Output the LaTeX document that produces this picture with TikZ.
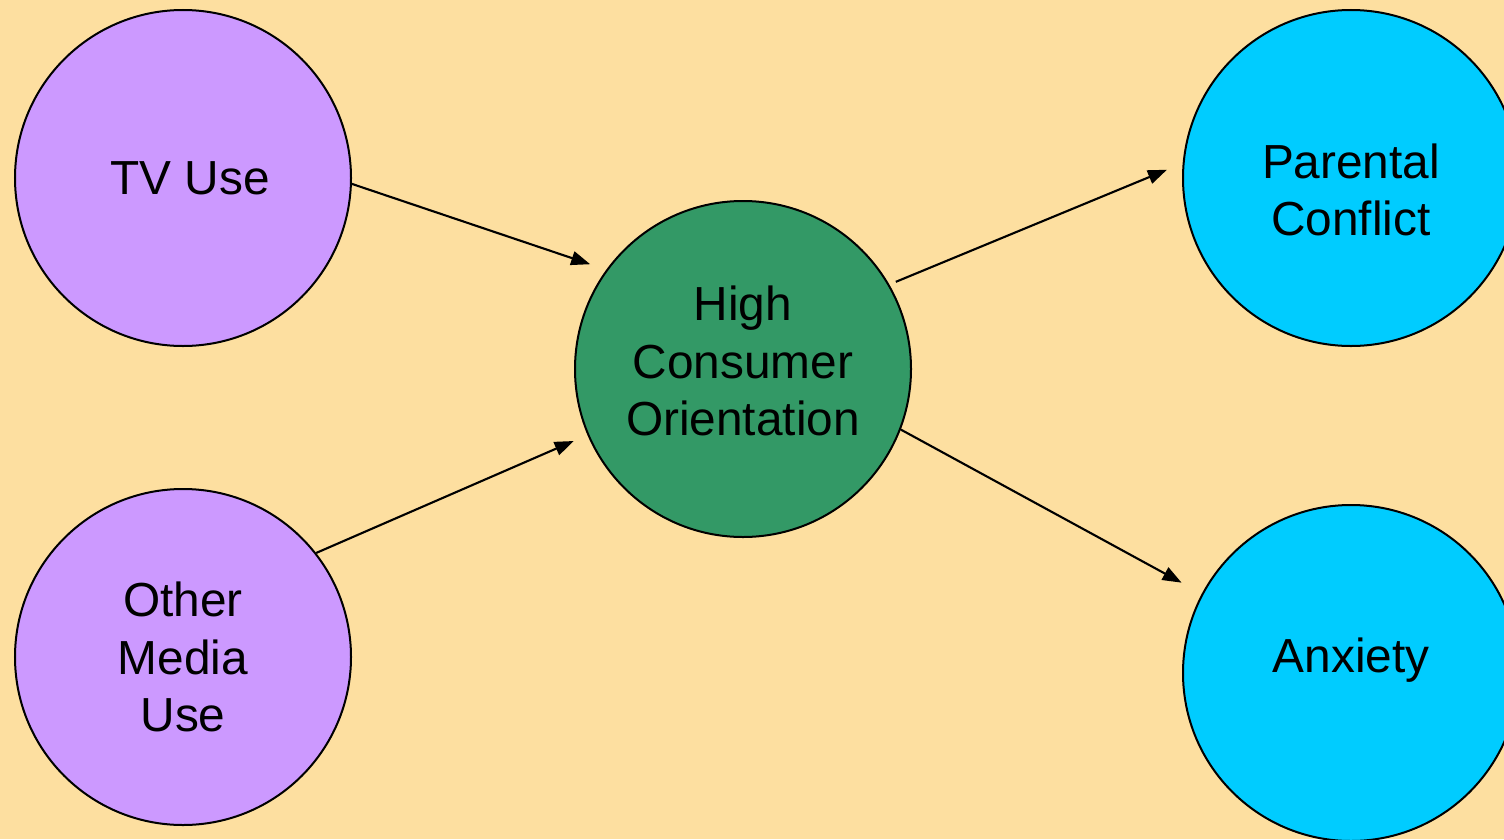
\documentclass[tikz,border=0pt]{standalone}
\usepackage{fontspec}
\setmainfont{Liberation Sans}
\usepackage{xcolor}
\usetikzlibrary{shapes,arrows,positioning,calc,arrows.meta}

\definecolor{paper}{HTML}{FDDFA0}
\definecolor{media}{HTML}{CC99FF}
\definecolor{consumer}{HTML}{339966}
\definecolor{outcome}{HTML}{00CCFF}

\tikzset{
    factor/.style={circle, draw=black, line width=0.57pt, minimum size=3.36cm, inner sep=0pt},
    caption/.style={align=center, inner sep=0pt, font=\fontsize{13.6}{16.3}\selectfont},
    link/.style={-{Triangle[length=0.19cm,width=0.14cm]}, line width=0.6pt}
}

\begin{document}
\begin{tikzpicture}
    \useasboundingbox (0,0) rectangle (15.04,8.39);
    \clip (0,0) rectangle (15.04,8.39);
    \fill[paper] (0,0) rectangle (15.04,8.39);

    % media use on the left
    \node[factor, fill=media] (tv) at (1.83,6.61) {};
    \node[factor, fill=media] (other) at (1.83,1.82) {};

    % the mediator
    \node[factor, fill=consumer] (hco) at (7.43,4.70) {};

    % outcomes on the right
    \node[factor, fill=outcome] (pc) at (13.51,6.61) {};
    \node[factor, fill=outcome] (anx) at (13.51,1.66) {};

    % texts sit a little off the centres
    \node[caption] (tvText) at ([xshift=0.07cm]tv) {TV Use};
    \node[caption] (otherText) at (other) {Other\\Media\\Use};
    \node[caption] (hcoText) at ([yshift=0.08cm]hco) {High\\Consumer\\Orientation};
    \node[caption] (pcText) at ([yshift=-0.12cm]pc) {Parental\\Conflict};
    \node[caption] (anxText) at ([yshift=0.13cm]anx) {Anxiety};

    \draw[link, shorten >=0.17cm] (tv.-2) -- (hco.144);
    \draw[link, shorten >=0.15cm] (other.38) -- (hco.203);
    \draw[link, shorten <=0.07cm, shorten >=0.17cm] (hco.30) -- (pc.175);
    \draw[link, shorten >=0.23cm] (hco.-21) -- (anx.152);
\end{tikzpicture}
\end{document}
